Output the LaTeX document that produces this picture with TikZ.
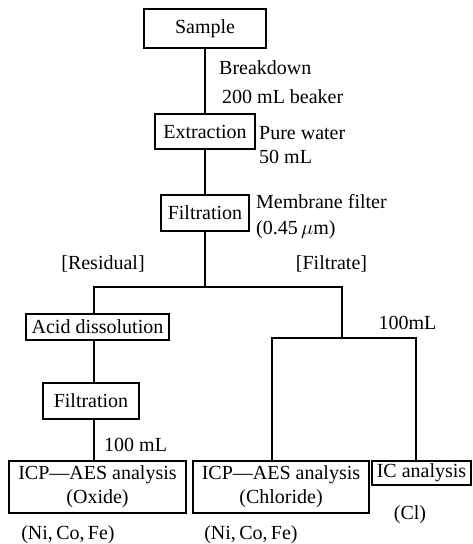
\documentclass[tikz,border=0pt]{standalone}
\usepackage{fontspec}
\setmainfont{Liberation Serif}
\usetikzlibrary{positioning}

\begin{document}
\begin{tikzpicture}[
  x=1pt, y=-1pt,
  font=\fontsize{20}{24}\selectfont,
  box/.style={draw, line width=1.6pt, inner sep=0pt, align=center},
  note/.style={anchor=west, inner sep=0pt, align=left},
  tag/.style={inner sep=0pt},
  flow/.style={line width=1.2pt},
]

\useasboundingbox (0,0) rectangle (473,544);

% ---- process boxes ----
\node[box, minimum width=122pt, minimum height=39pt] (sample)  at (205,28.5) {Sample};
\node[box, minimum width=100pt, minimum height=35pt] (extract) at (205,131.5) {Extraction};
\node[box, minimum width=88pt,  minimum height=36pt] (filtA)   at (205,213) {Filtration};
\node[box, minimum width=143pt, minimum height=26pt] (acid)    at (97.5,327) {Acid dissolution};
\node[box, minimum width=96pt,  minimum height=36pt] (filtB)   at (91,401) {Filtration};

% ---- analysis boxes ----
\node[box, minimum width=177pt, minimum height=52pt] (icpox) at (97.5,487) {ICP---AES analysis\\(Oxide)};
\node[box, minimum width=176pt, minimum height=52pt] (icpcl) at (281,487) {ICP---AES analysis\\(Chloride)};
\node[box, minimum width=99pt,  minimum height=24pt] (ic)    at (421.5,473) {IC analysis};

% ---- side notes ----
\node[note] (brk)   at (219,68)  {Breakdown};
\node[note] (beak)  at (222,97)  {200 mL beaker};
\node[note] (water) at (259,145) {Pure water\\50 mL};
\node[note] (memb)  at (256,217) {Membrane filter\\[2pt](0.45\,$\mu$m)};
\node[tag]  (resid) at (103,264) {[Residual]};
\node[tag]  (filtr) at (331.5,264) {[Filtrate]};
\node[tag]  (volR)  at (407.5,323) {100mL};
\node[note] (volL)  at (104,445) {100 mL};
\node[tag]  (elOx)  at (68,535)  {(Ni,\,Co,\,Fe)};
\node[tag]  (elCl)  at (251,535) {(Ni,\,Co,\,Fe)};
\node[tag]  (elCl2) at (410,515) {(Cl)};

% ---- branch points ----
\coordinate (split)  at (205,287);
\coordinate (splitL) at (94,287);
\coordinate (splitR) at (342,287);
\coordinate (fork)   at (342,338);
\coordinate (forkL)  at (272,338);
\coordinate (forkR)  at (416,338);

% ---- connectors ----
\draw[flow] (sample) -- (extract);
\draw[flow] (extract) -- (filtA);
\draw[flow] (filtA) -- (split);
\draw[flow] (splitL |- acid.north) -- (splitL) -- (splitR) -- (fork);
\draw[flow] (splitL |- acid.south) -- (splitL |- filtB.north);
\draw[flow] (splitL |- filtB.south) -- (splitL |- icpox.north);
\draw[flow] (forkL |- icpcl.north) -- (forkL) -- (forkR) -- (forkR |- ic.north);

\end{tikzpicture}
\end{document}
